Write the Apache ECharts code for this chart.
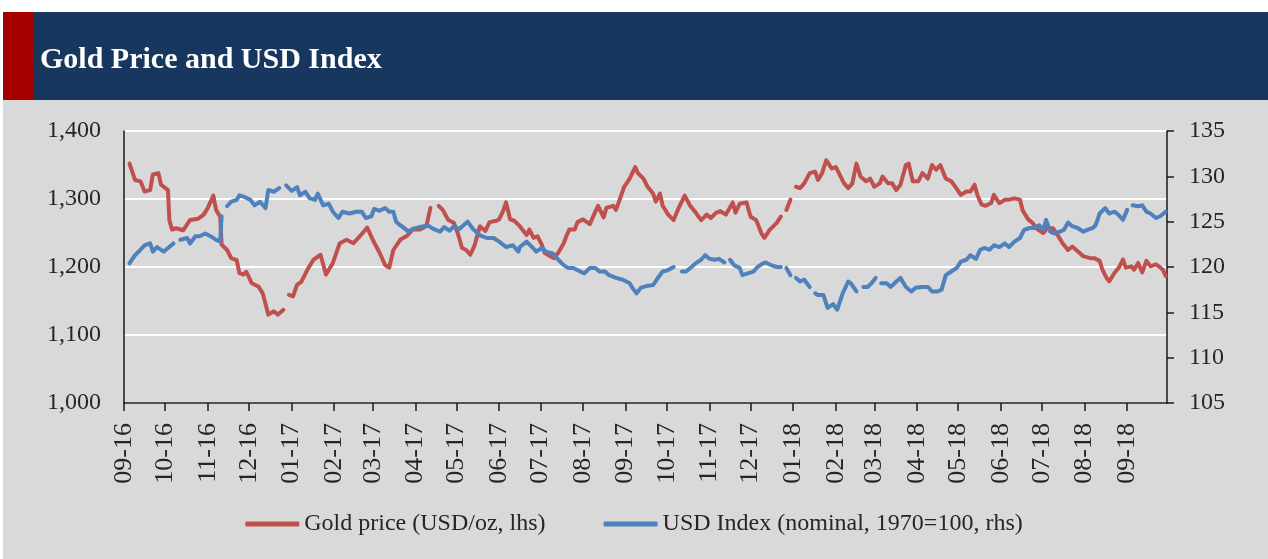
<!DOCTYPE html>
<html>
<head>
<meta charset="utf-8">
<title>Gold Price and USD Index</title>
<script src="https://cdn.jsdelivr.net/npm/echarts@6.0.0/dist/echarts.min.js"></script>
<style>html,body{margin:0;padding:0;background:#fff;}</style>
</head>
<body>
<div id="main" style="width:1268px;height:559px;"></div>
<script>
// x values are days counted from 2016-09-01; null = missing point (line break)
var monthLabels = ['09-16','10-16','11-16','12-16','01-17','02-17','03-17','04-17','05-17','06-17','07-17','08-17',
  '09-17','10-17','11-17','12-17','01-18','02-18','03-18','04-18','05-18','06-18','07-18','08-18','09-18'];

var goldDay = [4,8,12,15,19,21,25,27,32,33,35,38,43,48,54,58,61,65,67,70,71,75,78,82,84,87,89,93,98,101,105,109,112,116,118,120,
  123,126,129,134,138,143,147,152,157,162,167,172,177,181,186,190,193,196,201,206,210,215,220,223,226,229,232,236,240,243,246,
  249,252,255,259,263,266,271,273,276,278,281,284,288,293,295,298,301,304,306,310,313,316,320,322,324,328,330,334,339,342,345,
  349,351,356,358,361,364,368,372,374,378,381,385,387,390,392,396,400,403,408,412,416,420,424,427,431,434,438,443,445,448,453,
  456,460,464,466,470,475,478,480,482,485,487,489,492,495,499,503,505,508,511,515,518,521,524,527,530,533,536,540,543,546,550,
  552,556,559,562,565,569,571,574,578,581,585,588,591,594,598,602,605,609,613,616,619,621,624,627,631,633,637,641,644,648,652,
  654,658,661,665,669,672,676,680,683,687,690,694,698,703,706,710,712,715,717,721,724,727,729,733,735,738,741,744,747,751,753,756,758];
var goldPrice = [1352,1328,1326,1311,1313,1336,1338,1321,1313,1269,1255,1257,1254,1269,1271,1277,1287,1305,1284,1274,1233,1225,
  1213,1210,1191,1189,1193,1176,1171,1161,1130,1135,1130,1137,null,1159,
  1157,1174,1178,1198,1211,1218,1189,1206,1235,1240,1235,1246,1258,1240,1221,1203,1199,1225,1240,1246,1255,1255,1260,1287,null,
  1290,1284,1269,1265,1249,1228,
  1225,1218,1231,1260,1253,1266,1268,1270,1283,1295,1270,1268,1260,1247,1255,1243,1245,1233,1221,1216,1213,1221,1235,1246,1255,
  1255,1266,1270,1263,1277,1290,
  1273,1287,1290,1284,1301,1318,1330,1347,1338,1330,1318,1308,1296,1308,1290,1277,1269,1284,1305,1290,1280,1269,1277,1272,1280,
  1282,1277,1295,1280,1293,1295,
  1274,1269,1249,1243,1255,1265,1274,null,1284,1299,null,1318,1316,1323,1338,1340,1328,1338,1357,1345,1347,1335,1323,1316,1323,
  1352,1333,1326,1330,1318,1323,
  1333,1323,1323,1313,1321,1350,1352,1326,1326,1338,1330,1350,1343,1350,1330,1326,1318,1306,1311,1311,1321,1306,1292,1290,1294,
  1306,1294,1299,1299,1301,1299,
  1283,1270,1265,1255,1250,1257,1257,1245,1235,1225,1230,1223,1216,1213,1213,1209,1196,1184,1179,1192,1199,1211,1199,1201,1196,
  1206,1192,1209,1201,1204,1201,1196,1187];

var usdDay = [4,8,12,15,19,21,24,29,32,36,38,41,46,48,52,55,59,63,67,70,71,73,75,78,82,84,88,92,95,99,103,105,109,113,116,118,122,
  126,128,132,135,139,141,145,149,152,156,159,164,169,173,176,180,182,186,190,193,196,198,201,203,207,210,215,221,225,230,233,
  237,240,244,250,254,259,264,269,273,278,283,287,288,293,297,300,304,307,312,316,320,323,327,332,335,339,343,346,350,353,358,
  363,368,370,373,376,380,385,389,392,395,400,403,406,409,413,416,420,423,426,430,433,437,439,441,444,448,450,454,458,461,465,
  467,471,475,478,480,482,485,487,489,492,495,499,501,503,505,509,512,516,519,523,527,529,533,536,538,541,544,547,549,551,555,
  558,562,565,569,573,576,581,585,588,592,595,598,602,606,609,613,616,620,623,626,630,633,637,641,644,648,652,655,659,663,666,
  669,671,674,677,681,684,687,690,694,698,701,705,707,710,714,717,721,724,727,730,732,734,738,741,744,747,751,754,758];
var usdIndex = [120.4,121.3,121.9,122.4,122.6,121.7,122.2,121.7,122.1,122.6,null,123.0,123.2,122.6,123.4,123.4,123.7,123.4,123.0,
  122.8,125.6,null,126.7,127.2,127.4,127.9,127.7,127.4,126.8,127.2,126.5,128.5,128.3,128.7,null,129.0,128.4,
  128.8,127.9,128.3,127.6,127.4,128.1,126.8,127.0,126.1,125.4,126.1,125.9,126.1,126.1,125.4,125.6,126.4,126.2,126.5,126.1,126.1,
  125.0,124.6,124.4,123.9,124.2,124.4,124.6,124.2,123.9,124.4,
  124.0,124.5,124.2,125.0,124.2,123.5,123.2,123.2,122.8,122.2,122.4,121.7,122.2,122.8,122.2,121.7,122.1,121.7,121.5,120.8,120.2,
  119.9,119.9,119.5,119.3,119.9,119.9,119.5,119.5,119.1,118.8,
  118.6,118.2,117.7,117.1,117.7,117.9,118.0,118.9,119.5,119.6,120.0,null,119.5,119.5,120.0,120.4,120.8,121.3,120.9,120.8,120.9,
  120.5,null,120.8,120.2,119.9,119.1,119.3,119.5,120.0,120.4,
  120.5,120.2,120.0,120.0,null,119.9,119.1,null,118.8,118.4,118.6,117.8,null,117.1,116.9,116.9,115.5,115.9,115.3,117.1,118.4,
  118.2,117.3,null,117.8,117.8,118.2,118.8,null,118.2,118.2,
  117.8,118.4,118.8,117.8,117.3,117.7,117.8,117.8,117.3,117.3,117.5,119.1,119.5,119.9,120.6,120.8,121.3,120.9,121.9,122.1,121.9,
  122.4,122.2,122.6,122.2,122.8,123.2,124.1,124.3,124.3,124.6,
  124.1,125.2,123.9,123.7,123.9,124.1,124.9,124.5,124.3,123.9,124.1,124.3,124.6,125.9,126.5,125.9,126.1,125.7,125.2,126.3,null,
  126.8,126.7,126.8,126.1,125.9,125.4,125.6,126.1];

var DAY = 86400000;
var BASE = Date.UTC(2016, 8, 1);
var monthStart = monthLabels.map(function (s) {
  var m = parseInt(s.substr(0, 2), 10), y = 2000 + parseInt(s.substr(3, 2), 10);
  return Math.round((Date.UTC(y, m - 1, 1) - BASE) / DAY);
});

function pairs(xs, ys) {
  return xs.map(function (x, i) { return [x, ys[i] === null ? '-' : ys[i]]; });
}

var axisFont = 'Liberation Serif';
var textColor = '#262626';

var myChart = echarts.init(document.getElementById('main'));
var option = {
  backgroundColor: '#ffffff',
  animation: false,
  graphic: [
    { type: 'rect', silent: true, z: -10, shape: { x: 3, y: 100, width: 1265, height: 459 }, style: { fill: '#d9d9d9' } },
    { type: 'rect', silent: true, z: -10, shape: { x: 33, y: 12, width: 1235, height: 88 }, style: { fill: '#17375e' } },
    { type: 'rect', silent: true, z: -10, shape: { x: 3, y: 12, width: 30, height: 88 }, style: { fill: '#a50000' } }
  ],
  title: {
    text: 'Gold Price and USD Index',
    left: 35, top: 40,
    textStyle: { color: '#ffffff', fontFamily: axisFont, fontWeight: 'bold', fontSize: 30 }
  },
  legend: {
    left: 'center', top: 507,
    itemWidth: 54, itemHeight: 5, itemGap: 58,
    icon: 'roundRect',
    textStyle: { fontFamily: axisFont, fontSize: 24, color: textColor, padding: [0, 0, 0, 0] },
    data: ['Gold price (USD/oz, lhs)', 'USD Index (nominal, 1970=100, rhs)']
  },
  grid: { left: 124, right: 101, top: 131, bottom: 156, containLabel: false, outerBoundsMode: 'none' },
  xAxis: {
    type: 'value', min: 0, max: 759,
    axisLine: { onZero: false, lineStyle: { color: '#1a1a1a', width: 1.5 } },
    axisTick: { show: true, length: 8, customValues: monthStart, lineStyle: { color: '#1a1a1a', width: 1.5 } },
    axisLabel: {
      customValues: monthStart, rotate: 90, margin: 20,
      fontFamily: axisFont, fontSize: 26, color: textColor,
      formatter: function (v) { var i = monthStart.indexOf(v); return i >= 0 ? monthLabels[i] : ''; }
    },
    splitLine: { show: false }
  },
  yAxis: [
    {
      type: 'value', position: 'left', min: 1000, max: 1400, interval: 100,
      axisLine: { show: true, lineStyle: { color: '#1a1a1a', width: 1.5 } },
      axisTick: { show: false },
      axisLabel: {
        margin: 23, fontFamily: axisFont, fontSize: 24, color: textColor,
        formatter: function (v) { return String(v).replace(/\B(?=(\d{3})+(?!\d))/g, ','); }
      },
      splitLine: { show: true, lineStyle: { color: '#ffffff', width: 2 } }
    },
    {
      type: 'value', position: 'right', min: 105, max: 135, interval: 5,
      axisLine: { show: true, lineStyle: { color: '#1a1a1a', width: 1.5 } },
      axisTick: { show: true, length: 7, lineStyle: { color: '#1a1a1a', width: 1.5 } },
      axisLabel: { margin: 22, fontFamily: axisFont, fontSize: 24, color: textColor },
      splitLine: { show: false }
    }
  ],
  series: [
    {
      name: 'Gold price (USD/oz, lhs)', type: 'line', yAxisIndex: 0,
      data: pairs(goldDay, goldPrice), showSymbol: false, symbol: 'none', connectNulls: false,
      itemStyle: { color: '#c0504d' },
      lineStyle: { color: '#c0504d', width: 4, cap: 'round', join: 'round' }
    },
    {
      name: 'USD Index (nominal, 1970=100, rhs)', type: 'line', yAxisIndex: 1,
      data: pairs(usdDay, usdIndex), showSymbol: false, symbol: 'none', connectNulls: false,
      itemStyle: { color: '#4f81bd' },
      lineStyle: { color: '#4f81bd', width: 4, cap: 'round', join: 'round' }
    }
  ]
};
myChart.setOption(option);
</script>
</body>
</html>
